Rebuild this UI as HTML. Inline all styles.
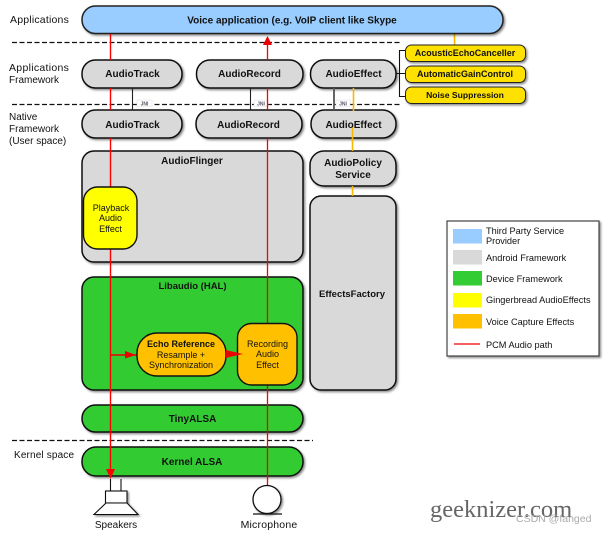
<!DOCTYPE html>
<html><head><meta charset="utf-8"><style>
html,body{margin:0;padding:0;background:#fff;width:609px;height:534px;overflow:hidden}
svg{display:block}
text{font-family:"Liberation Sans",sans-serif;font-size:9px;fill:#111;text-anchor:middle}
.b{font-weight:bold}
.t{font-weight:bold;font-size:10px}
.m{font-size:10px}
.l{text-anchor:start}
</style></head><body>
<svg width="609" height="534" viewBox="0 0 609 534" xmlns="http://www.w3.org/2000/svg">
<defs><filter id="s" x="-10%" y="-20%" width="125%" height="150%"><feDropShadow dx="1.5" dy="1.5" stdDeviation="1" flood-color="#000" flood-opacity=".45"/></filter></defs>

<g stroke="#111" stroke-width="1.2" stroke-dasharray="5 2.5" fill="none">
<path d="M12 42.5H400M12 104.5H400M12 440.5H313"/>
</g>

<g stroke="#111" stroke-width="1.5" fill="#d9d9d9" filter="url(#s)">
<rect x="82" y="60" width="100" height="28" rx="13.5"/>
<rect x="196.5" y="60" width="106.5" height="28" rx="13.5"/>
<rect x="310.5" y="60" width="85.5" height="28" rx="13.5"/>
<rect x="82" y="110" width="100" height="28" rx="13.5"/>
<rect x="196" y="110" width="106" height="28" rx="13.5"/>
<rect x="311" y="110" width="85" height="28" rx="13.5"/>
<rect x="310" y="151" width="86" height="35" rx="14"/>
<rect x="310" y="196" width="86" height="194" rx="11"/>
<rect x="82" y="151" width="221" height="111" rx="12"/>
</g>
<rect x="82" y="277" width="221" height="113" rx="12" fill="#33cc33" stroke="#111" stroke-width="1.5" filter="url(#s)"/>
<g fill="#33cc33" stroke="#111" stroke-width="1.5" filter="url(#s)">
<rect x="82" y="405" width="221" height="27" rx="13.5"/>
<rect x="82" y="447" width="221" height="29" rx="14"/>
</g>

<!-- JNI -->
<path d="M132.5 88V110M250.5 88V110" stroke="#222" stroke-width="1.1" fill="none"/>
<path d="M334 88V110" stroke="#555" stroke-width="1.8" fill="none"/>
<g fill="#fff" stroke="#ddd" stroke-width=".5">
<rect x="137" y="100" width="15" height="6.5"/>
<rect x="254" y="100" width="14" height="6.5"/>
<rect x="336" y="100" width="14" height="6.5"/>
</g>
<text x="144.5" y="105.3" style="font-size:5px;font-weight:bold;fill:#556">JNI</text>
<text x="261" y="105.3" style="font-size:5px;font-weight:bold;fill:#556">JNI</text>
<text x="343" y="105.3" style="font-size:5px;font-weight:bold;fill:#556">JNI</text>

<!-- orange lines -->
<path d="M353.5 88V111M352.5 125V151M352.5 186V196M454.5 33V45" stroke="#f7b900" stroke-width="1.6" fill="none"/>

<!-- bracket -->
<path d="M405 50.5H399.5V96.5H405M396 73.5H405" stroke="#111" stroke-width="1.1" fill="none"/>

<!-- blue -->
<rect x="82" y="6" width="421" height="27.5" rx="13.5" fill="#99ccff" stroke="#222" stroke-width="1.5" filter="url(#s)"/>

<!-- red lines -->
<path d="M110.5 34V60M110.5 88V110M110.5 138V187M110.5 249V470" stroke="#f00" stroke-width="1.4" fill="none"/>
<path d="M267.5 485V385M267.5 323V138M267.5 110V88M267.5 60V44" stroke="#f00" stroke-width="1.3" fill="none"/>
<path d="M110.5 355H137M226 354H238" stroke="#e00" stroke-width="1.5" fill="none"/>

<!-- yellow small -->
<g fill="#ffe100" stroke="#222" stroke-width="1" filter="url(#s)">
<rect x="405.5" y="45" width="120" height="16.5" rx="6"/>
<rect x="405.5" y="66" width="120" height="16.5" rx="6"/>
<rect x="405.5" y="87" width="120" height="16.5" rx="6"/>
</g>

<!-- inner boxes -->
<rect x="83.5" y="187" width="53.5" height="62" rx="14" fill="#ffff00" stroke="#111" stroke-width="1.4"/>
<rect x="137" y="333" width="89" height="43" rx="20" fill="#ffc000" stroke="#111" stroke-width="1.4"/>
<rect x="237.5" y="323.5" width="59.5" height="61.5" rx="14" fill="#ffc000" stroke="#111" stroke-width="1.4"/>

<!-- arrowheads -->
<path d="M106 469H115L110.5 479Z" fill="#f00"/>
<path d="M263 45H272L267.5 36Z" fill="#e00"/>
<path d="M125 351V358.5L136 355Z" fill="#e00"/>
<path d="M226 350V358L243 354Z" fill="#e00" opacity=".95"/>

<!-- speaker -->
<path d="M110.5 479V491M121 479V491" stroke="#111" stroke-width="1.1" fill="none"/>
<rect x="105.5" y="491" width="21.5" height="12" fill="#fff" stroke="#111" stroke-width="1.1" filter="url(#s)"/>
<path d="M106 503H127L138 514.5H94Z" fill="#fff" stroke="#111" stroke-width="1.1" filter="url(#s)"/>
<!-- mic -->
<circle cx="267" cy="499.5" r="14" fill="#fff" stroke="#111" stroke-width="1.3" filter="url(#s)"/>
<path d="M253 514H282" stroke="#111" stroke-width="1.3"/>

<!-- labels left -->
<text class="l" x="10" y="23" style="font-size:10.5px;letter-spacing:.2px">Applications</text>
<text class="l" x="9" y="71" style="font-size:10.5px;letter-spacing:.3px">Applications</text>
<text class="l m" x="9" y="83">Framework</text>
<text class="l m" x="9" y="120">Native</text>
<text class="l m" x="9" y="132">Framework</text>
<text class="l m" x="9" y="144">(User space)</text>
<text class="l m" x="14" y="458" style="letter-spacing:.15px">Kernel space</text>

<!-- labels -->
<text class="t" x="292" y="23.5">Voice application (e.g. VoIP client like Skype</text>
<text class="t" x="132.5" y="77">AudioTrack</text>
<text class="t" x="249.5" y="77">AudioRecord</text>
<text class="t" x="353.5" y="77">AudioEffect</text>
<text class="t" x="132.5" y="128">AudioTrack</text>
<text class="t" x="248.5" y="128">AudioRecord</text>
<text class="t" x="353.5" y="128">AudioEffect</text>
<text class="t" x="353" y="166">AudioPolicy</text>
<text class="t" x="353" y="178">Service</text>
<text class="b" x="352" y="297" style="font-size:9.5px">EffectsFactory</text>
<text class="t" x="192" y="164">AudioFlinger</text>
<text class="b" x="192.5" y="289" style="font-size:9.5px">Libaudio (HAL)</text>
<text class="t" x="192.5" y="422">TinyALSA</text>
<text class="t" x="192" y="465">Kernel ALSA</text>
<text class="b" x="465" y="56">AcousticEchoCanceller</text>
<text class="b" x="465" y="77">AutomaticGainControl</text>
<text class="b" x="465" y="98" style="font-size:8.6px">Noise Suppression</text>
<text x="111" y="211">Playback</text>
<text x="110.5" y="221">Audio</text>
<text x="110.5" y="232">Effect</text>
<text x="267.5" y="347">Recording</text>
<text x="267.5" y="357">Audio</text>
<text x="267.5" y="368">Effect</text>
<text class="b" x="181" y="347">Echo Reference</text>
<text x="181" y="358">Resample +</text>
<text x="181" y="368">Synchronization</text>
<text class="m" x="116" y="528">Speakers</text>
<text x="269" y="528" style="font-size:10.5px;letter-spacing:.2px">Microphone</text>

<!-- legend -->
<rect x="447" y="221" width="152" height="135" fill="#fff" stroke="#333" stroke-width="1.1" filter="url(#s)"/>
<rect x="453" y="229" width="29" height="14.5" fill="#99ccff"/>
<rect x="453" y="250" width="29" height="14.5" fill="#d9d9d9"/>
<rect x="453" y="271" width="29" height="14.5" fill="#33cc33"/>
<rect x="453" y="293" width="29" height="14.5" fill="#ffff00"/>
<rect x="453" y="314" width="29" height="14.5" fill="#ffc000"/>
<path d="M454 344H480" stroke="#e00" stroke-width="1.2"/>
<g>
<text class="l" x="486" y="234" style="font-size:9.2px">Third Party Service</text>
<text class="l" x="486" y="244" style="font-size:9.2px">Provider</text>
<text class="l" x="486" y="261" style="font-size:9.2px">Android Framework</text>
<text class="l" x="486" y="282" style="font-size:9.2px">Device Framework</text>
<text class="l" x="486" y="303" style="font-size:9.2px">Gingerbread AudioEffects</text>
<text class="l" x="486" y="325" style="font-size:9.2px">Voice Capture Effects</text>
<text class="l" x="486" y="348" style="font-size:9.2px">PCM Audio path</text>
</g>

<!-- watermark -->
<text class="l" x="430" y="517" style="font-family:'Liberation Serif',serif;font-size:24.5px;fill:#666">geeknizer.com</text>
<text class="l" x="516" y="522" style="font-size:10.5px;fill:#aaa">CSDN @fanged</text>
</svg>
</body></html>
